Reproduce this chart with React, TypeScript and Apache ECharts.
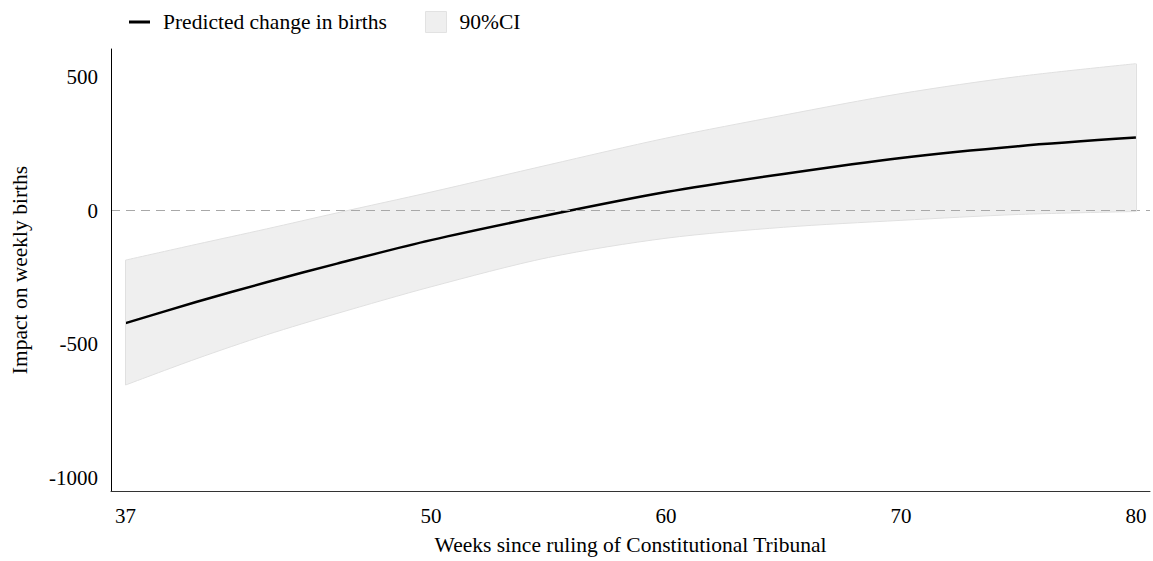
import React, { useEffect, useRef } from "react";
import * as echarts from "echarts";

const weeks = [37, 40, 43, 46, 50, 55, 60, 65, 70, 75, 80];
const predicted = [-421, -342, -268, -198, -110, -16, 70, 138, 198, 242, 274];
const ciUpper = [-185, -126, -68, -8, 70, 172, 272, 358, 439, 503, 551];
const ciLower = [-653, -555, -465, -385, -285, -175, -103, -62, -36, -14, -3];

const xTicks = [37, 50, 60, 70, 80];
const yTicks = [-1000, -500, 0, 500];

const FONT = "Liberation Serif";

export default function App() {
  const ref = useRef<HTMLDivElement>(null);
  useEffect(() => {
    if (!ref.current) return;
    const chart = echarts.init(ref.current, undefined, { renderer: "svg" });
    const lineData = weeks.map((w, i) => [w, predicted[i]]);
    // value first so that stacking happens on the y dimension
    const lowerData = weeks.map((w, i) => [ciLower[i], w]);
    const bandData = weeks.map((w, i) => [ciUpper[i] - ciLower[i], w]);
    const last = weeks.length - 1;
    const edgeStyle = { color: "#e0e0e0", width: 1, type: "solid" as const };
    const txt = { fontFamily: FONT, fontSize: 21, color: "#000" };
    const big = { fontFamily: FONT, fontSize: 21.5, color: "#000" };
    chart.setOption({
      animation: false,
      backgroundColor: "#ffffff",
      grid: { left: 111, right: 3, top: 49, bottom: 66, containLabel: false },
      legend: [
        {
          left: 129,
          top: 11,
          padding: 0,
          icon: "rect",
          itemWidth: 21,
          itemHeight: 3,
          data: [{ name: "Predicted change in births", itemStyle: { color: "#000" } }],
          textStyle: { ...big, padding: [0, 0, 0, 8], lineHeight: 22 },
        },
        {
          left: 425,
          top: 11,
          padding: 0,
          icon: "rect",
          itemWidth: 21,
          itemHeight: 21,
          data: [{ name: "90%CI", itemStyle: { color: "#efefef", borderColor: "#e2e2e2", borderWidth: 1 } }],
          textStyle: { ...big, padding: [0, 0, 0, 8], lineHeight: 22 },
        },
      ],
      xAxis: {
        type: "value",
        min: 36.38,
        max: 80.6,
        z: 10,
        name: "Weeks since ruling of Constitutional Tribunal",
        nameLocation: "middle",
        nameGap: 43,
        nameTextStyle: { ...big },
        axisLine: { show: true, onZero: false, lineStyle: { color: "#333", width: 1 } },
        axisTick: { show: false },
        splitLine: { show: false },
        axisLabel: {
          ...txt,
          customValues: xTicks,
          margin: 14,
          formatter: (v: number) => String(v),
        },
      },
      yAxis: {
        type: "value",
        min: -1050,
        max: 606,
        z: 10,
        name: "Impact on weekly births",
        nameLocation: "middle",
        nameGap: 80,
        nameTextStyle: { ...big },
        axisLine: { show: true, onZero: false, lineStyle: { color: "#000", width: 1 } },
        axisTick: { show: false },
        splitLine: { show: false },
        axisLabel: {
          ...txt,
          customValues: yTicks,
          margin: 13,
          formatter: (v: number) => String(v),
        },
      },
      series: [
        {
          name: "ciLower",
          type: "line",
          data: lowerData,
          encode: { x: 1, y: 0 },
          stack: "ci",
          stackStrategy: "all",
          smooth: 0.3,
          showSymbol: false,
          symbol: "none",
          lineStyle: { color: "#e0e0e0", width: 1 },
          silent: true,
          z: 1,
        },
        {
          name: "90%CI",
          type: "line",
          data: bandData,
          encode: { x: 1, y: 0 },
          stack: "ci",
          stackStrategy: "all",
          smooth: 0.3,
          showSymbol: false,
          symbol: "none",
          lineStyle: { color: "#e0e0e0", width: 1 },
          areaStyle: { color: "#efefef", opacity: 1 },
          itemStyle: { color: "#efefef" },
          silent: true,
          z: 1,
        },
        {
          name: "Predicted change in births",
          type: "line",
          data: lineData,
          smooth: 0.3,
          showSymbol: false,
          symbol: "none",
          lineStyle: { color: "#000", width: 2.5 },
          itemStyle: { color: "#000" },
          z: 3,
          markLine: {
            silent: true,
            symbol: "none",
            label: { show: false },
            data: [
              { yAxis: 0, lineStyle: { color: "#a8a8a8", width: 1.2, type: [9, 6] } },
              [
                { coord: [weeks[0], ciLower[0]], lineStyle: edgeStyle },
                { coord: [weeks[0], ciUpper[0]] },
              ],
              [
                { coord: [weeks[last], ciLower[last]], lineStyle: edgeStyle },
                { coord: [weeks[last], ciUpper[last]] },
              ],
            ],
          },
        },
      ],
    });
    return () => chart.dispose();
  }, []);
  return (
    <div
      ref={ref}
      style={{ position: "fixed", left: 0, top: 0, width: 1153, height: 561, background: "#fff" }}
    />
  );
}
